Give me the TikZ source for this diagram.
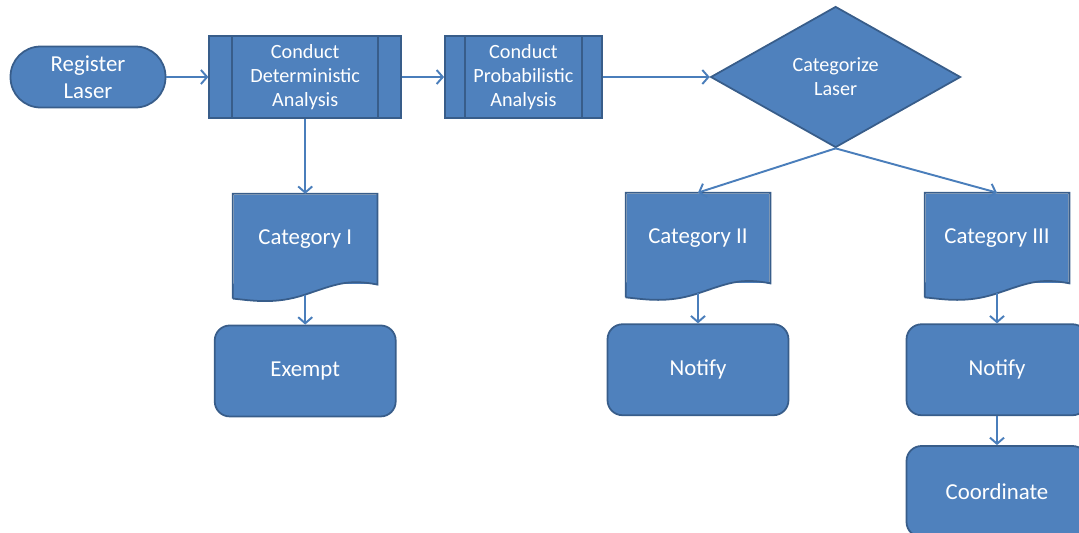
\documentclass[tikz,border=0pt]{standalone}
\usepackage{fontspec}
\setmainfont{Carlito}
\usetikzlibrary{positioning,shapes.geometric,arrows.meta,calc}

\definecolor{boxblue}{HTML}{4F81BD}
\definecolor{boxedge}{HTML}{385D8A}
\definecolor{flowline}{HTML}{4A7EBB}

\tikzset{
  blockbase/.style={fill=boxblue, draw=boxedge, line width=1pt, text=white, align=center,
    font=\fontsize{11.5}{13.6}\selectfont},
  terminal/.style={blockbase, rectangle, rounded corners=0.6cm, minimum width=3.1cm, minimum height=1.22cm,
    font=\fontsize{13}{15.5}\selectfont},
  process/.style={blockbase, rectangle, minimum height=1.64cm},
  decision/.style={blockbase, diamond, aspect=1.77, inner sep=0pt, minimum width=5cm, minimum height=2.82cm},
  docbox/.style={blockbase, draw=none, rectangle, minimum width=2.86cm, minimum height=1.78cm,
    font=\fontsize{13}{15.5}\selectfont},
  action/.style={blockbase, rectangle, rounded corners=0.3cm, minimum width=3.62cm, minimum height=1.82cm,
    font=\fontsize{13}{15.5}\selectfont},
  flow/.style={draw=flowline, line width=1.1pt, -{Straight Barb[length=3.5pt,width=8pt]}}
}

% inner bars of a predefined process box
\newcommand{\sidebars}[2]{%
  \draw[boxedge, line width=1pt] ($(#1.north west)+(#2,0)$) -- ($(#1.south west)+(#2,0)$);
  \draw[boxedge, line width=1pt] ($(#1.north east)-(#2,0)$) -- ($(#1.south east)-(#2,0)$);}

% wavy bottom of a document box
\newcommand{\wavedoc}[1]{%
  \fill[boxblue] ($(#1.south east)+(0,-1)$) -- (#1.south east)
    .. controls +(-30,-6) and +(30,-10) .. ($(#1.south)+(0,10)$)
    .. controls +(-30,10) and +(20,2) .. ($(#1.south west)+(0,14)$)
    -- ($(#1.south west)+(0,-1)$) -- cycle;
  \draw[boxedge, line width=1pt] ($(#1.south west)+(0,14)$) -- (#1.north west) -- (#1.north east) -- (#1.south east)
    .. controls +(-30,-6) and +(30,-10) .. ($(#1.south)+(0,10)$)
    .. controls +(-30,10) and +(20,2) .. ($(#1.south west)+(0,14)$);
  \coordinate (#1-w) at ($(#1.south)+(0,10)$);}

\begin{document}
\begin{tikzpicture}[x=0.02cm, y=-0.02cm]
        \clip (0,0) rectangle (1079,532);

        \node[terminal] (reg) at (88,77) {Register\\Laser};
        \node[process, minimum width=3.84cm] (det) [right=0.84cm of reg] {Conduct\\Deterministic\\Analysis};
        \node[process, minimum width=3.14cm] (prob) [right=0.84cm of det] {Conduct\\Probabilistic\\Analysis};
        \node[decision] (cat) [right=2.14cm of prob] {Categorize\\Laser};
        \sidebars{det}{24}
        \sidebars{prob}{21}

        \node[docbox] (catI) [below=1.5cm of det] {Category I};
        \node[docbox] (catII) at (698,238) {Category II};
        \node[docbox] (catIII) at (997,238) {Category III};
        \wavedoc{catI}
        \wavedoc{catII}
        \wavedoc{catIII}

        \node[action] (exempt) [below=0.8cm of catI] {Exempt};
        \node[action] (notifyII) [below=0.8cm of catII] {Notify};
        \node[action] (notifyIII) [below=0.8cm of catIII] {Notify};
        \node[action] (coord) [below=0.58cm of notifyIII] {Coordinate};

        \draw (reg) edge[flow] (det);
        \draw (det) edge[flow] (prob);
        \draw (prob) edge[flow] (cat);
        \draw (det.south) edge[flow] (catI.north);
        \draw (cat.south) edge[flow] (catII.north);
        \draw (cat.south) edge[flow] (catIII.north);
        \draw (catI-w) edge[flow] (exempt.north);
        \draw (catII-w) edge[flow] (notifyII.north);
        \draw (catIII-w) edge[flow] (notifyIII.north);
        \draw (notifyIII) edge[flow] (coord);
      \end{tikzpicture}
\end{document}
